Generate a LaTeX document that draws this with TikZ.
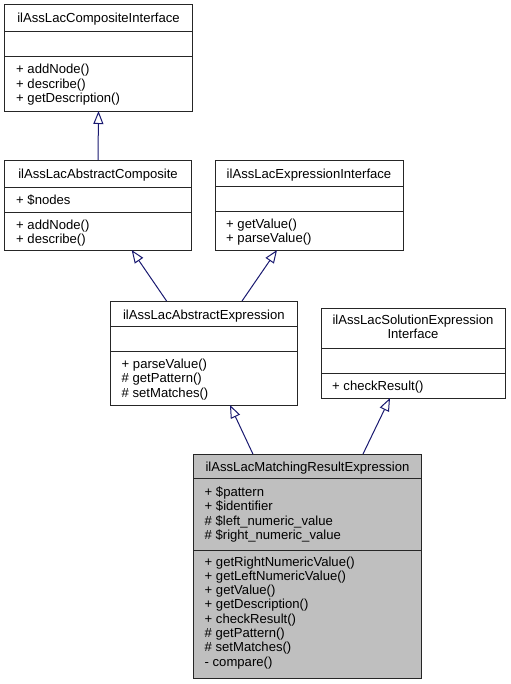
\documentclass[tikz,border=0pt]{standalone}
\usepackage{fontspec}
\setmainfont{Liberation Sans}
\usetikzlibrary{arrows.meta,calc}

\definecolor{edgeblue}{HTML}{191970}
\definecolor{curgray}{HTML}{BFBFBF}

\tikzset{
  classbox/.style={draw=black!85,line width=1bp,fill=white,inner sep=0pt,outer sep=0pt},
  curbox/.style={classbox,fill=curgray},
  title/.style={anchor=base,inner sep=0pt,font=\fontsize{13.1bp}{14.5bp}\selectfont},
  member/.style={anchor=base west,inner sep=0pt,font=\fontsize{13.1bp}{14.5bp}\selectfont},
  inherit/.style={draw=edgeblue,line width=1bp,-{Triangle[open,length=13bp,width=10bp]}},
}

\begin{document}
\begin{tikzpicture}[x=1bp,y=-1bp]
        \useasboundingbox (0,0) rectangle (511,684);

        % Composite interface
        \node[classbox,minimum width=187bp,minimum height=106bp] (ci) at (98.5,58) {};
        \draw[black!85,line width=1bp] (ci.west |- 0,32) -- (ci.east |- 0,32);
        \draw[black!85,line width=1bp] (ci.west |- 0,57) -- (ci.east |- 0,57);
        \node[title] (ci-name) at (98.5,23) {ilAssLacCompositeInterface};
        \foreach \m [count=\i from 0] in {{+ addNode()},{+ describe()},{+ getDescription()}}
          \node[member] (ci-op\i) at (16,74+14.5*\i) {\m};

        % Abstract composite
        \node[classbox,minimum width=186bp,minimum height=90bp] (ac) at (98,205) {};
        \draw[black!85,line width=1bp] (ac.west |- 0,187) -- (ac.east |- 0,187);
        \draw[black!85,line width=1bp] (ac.west |- 0,212) -- (ac.east |- 0,212);
        \node[title] (ac-name) at (98,178) {ilAssLacAbstractComposite};
        \node[member] (ac-at0) at (16,204) {+ \$nodes};
        \foreach \m [count=\i from 0] in {{+ addNode()},{+ describe()}}
          \node[member] (ac-op\i) at (16,229+14.5*\i) {\m};

        % Expression interface
        \node[classbox,minimum width=188bp,minimum height=90bp] (ei) at (309,205) {};
        \draw[black!85,line width=1bp] (ei.west |- 0,186) -- (ei.east |- 0,186);
        \draw[black!85,line width=1bp] (ei.west |- 0,211) -- (ei.east |- 0,211);
        \node[title] (ei-name) at (309,178) {ilAssLacExpressionInterface};
        \foreach \m [count=\i from 0] in {{+ getValue()},{+ parseValue()}}
          \node[member] (ei-op\i) at (226,228+14.5*\i) {\m};

        % Abstract expression
        \node[classbox,minimum width=186.3bp,minimum height=104bp] (ae) at (203.85,353) {};
        \draw[black!85,line width=1bp] (ae.west |- 0,326) -- (ae.east |- 0,326);
        \draw[black!85,line width=1bp] (ae.west |- 0,351) -- (ae.east |- 0,351);
        \node[title] (ae-name) at (203.85,319) {ilAssLacAbstractExpression};
        \foreach \m [count=\i from 0] in {{+ parseValue()},{\# getPattern()},{\# setMatches()}}
          \node[member] (ae-op\i) at (121.5,368+14.5*\i) {\m};

        % Solution expression interface
        \node[classbox,minimum width=184bp,minimum height=90bp] (sei) at (413,353) {};
        \draw[black!85,line width=1bp] (sei.west |- 0,348) -- (sei.east |- 0,348);
        \draw[black!85,line width=1bp] (sei.west |- 0,373) -- (sei.east |- 0,373);
        \node[title] (sei-name1) at (413,324) {ilAssLacSolutionExpression};
        \node[title] (sei-name2) at (413,338.5) {Interface};
        \node[member] (sei-op0) at (332,390) {+ checkResult()};

        % Matching result expression (current class)
        \node[curbox,minimum width=228.4bp,minimum height=224bp] (me) at (307.5,566) {};
        \draw[black!85,line width=1bp] (me.west |- 0,478) -- (me.east |- 0,478);
        \draw[black!85,line width=1bp] (me.west |- 0,550) -- (me.east |- 0,550);
        \node[title] (me-name) at (307.5,471) {ilAssLacMatchingResultExpression};
        \foreach \m [count=\i from 0] in {{+ \$pattern},{+ \$identifier},{\# \$left\_numeric\_value},{\# \$right\_numeric\_value}}
          \node[member] (me-at\i) at (204.5,496+14.5*\i) {\m};
        \foreach \m [count=\i from 0] in {{+ getRightNumericValue()},{+ getLeftNumericValue()},{+ getValue()},{+ getDescription()},{+ checkResult()},{\# getPattern()},{\# setMatches()},{- compare()}}
          \node[member] (me-op\i) at (204.5,566+14.3*\i) {\m};

        % Inheritance
        \draw[inherit] (ac.north) -- (ci.south);
        \draw[inherit] ($(ae.north west)!0.30!(ae.north east)$) -- ($(ac.south west)!0.681!(ac.south east)$);
        \draw[inherit] ($(ae.north west)!0.705!(ae.north east)$) -- ($(ei.south west)!0.33!(ei.south east)$);
        \draw[inherit] ($(me.north west)!0.261!(me.north east)$) -- ($(ae.south west)!0.64!(ae.south east)$);
        \draw[inherit] ($(me.north west)!0.743!(me.north east)$) -- ($(sei.south west)!0.375!(sei.south east)$);
\end{tikzpicture}
\end{document}
